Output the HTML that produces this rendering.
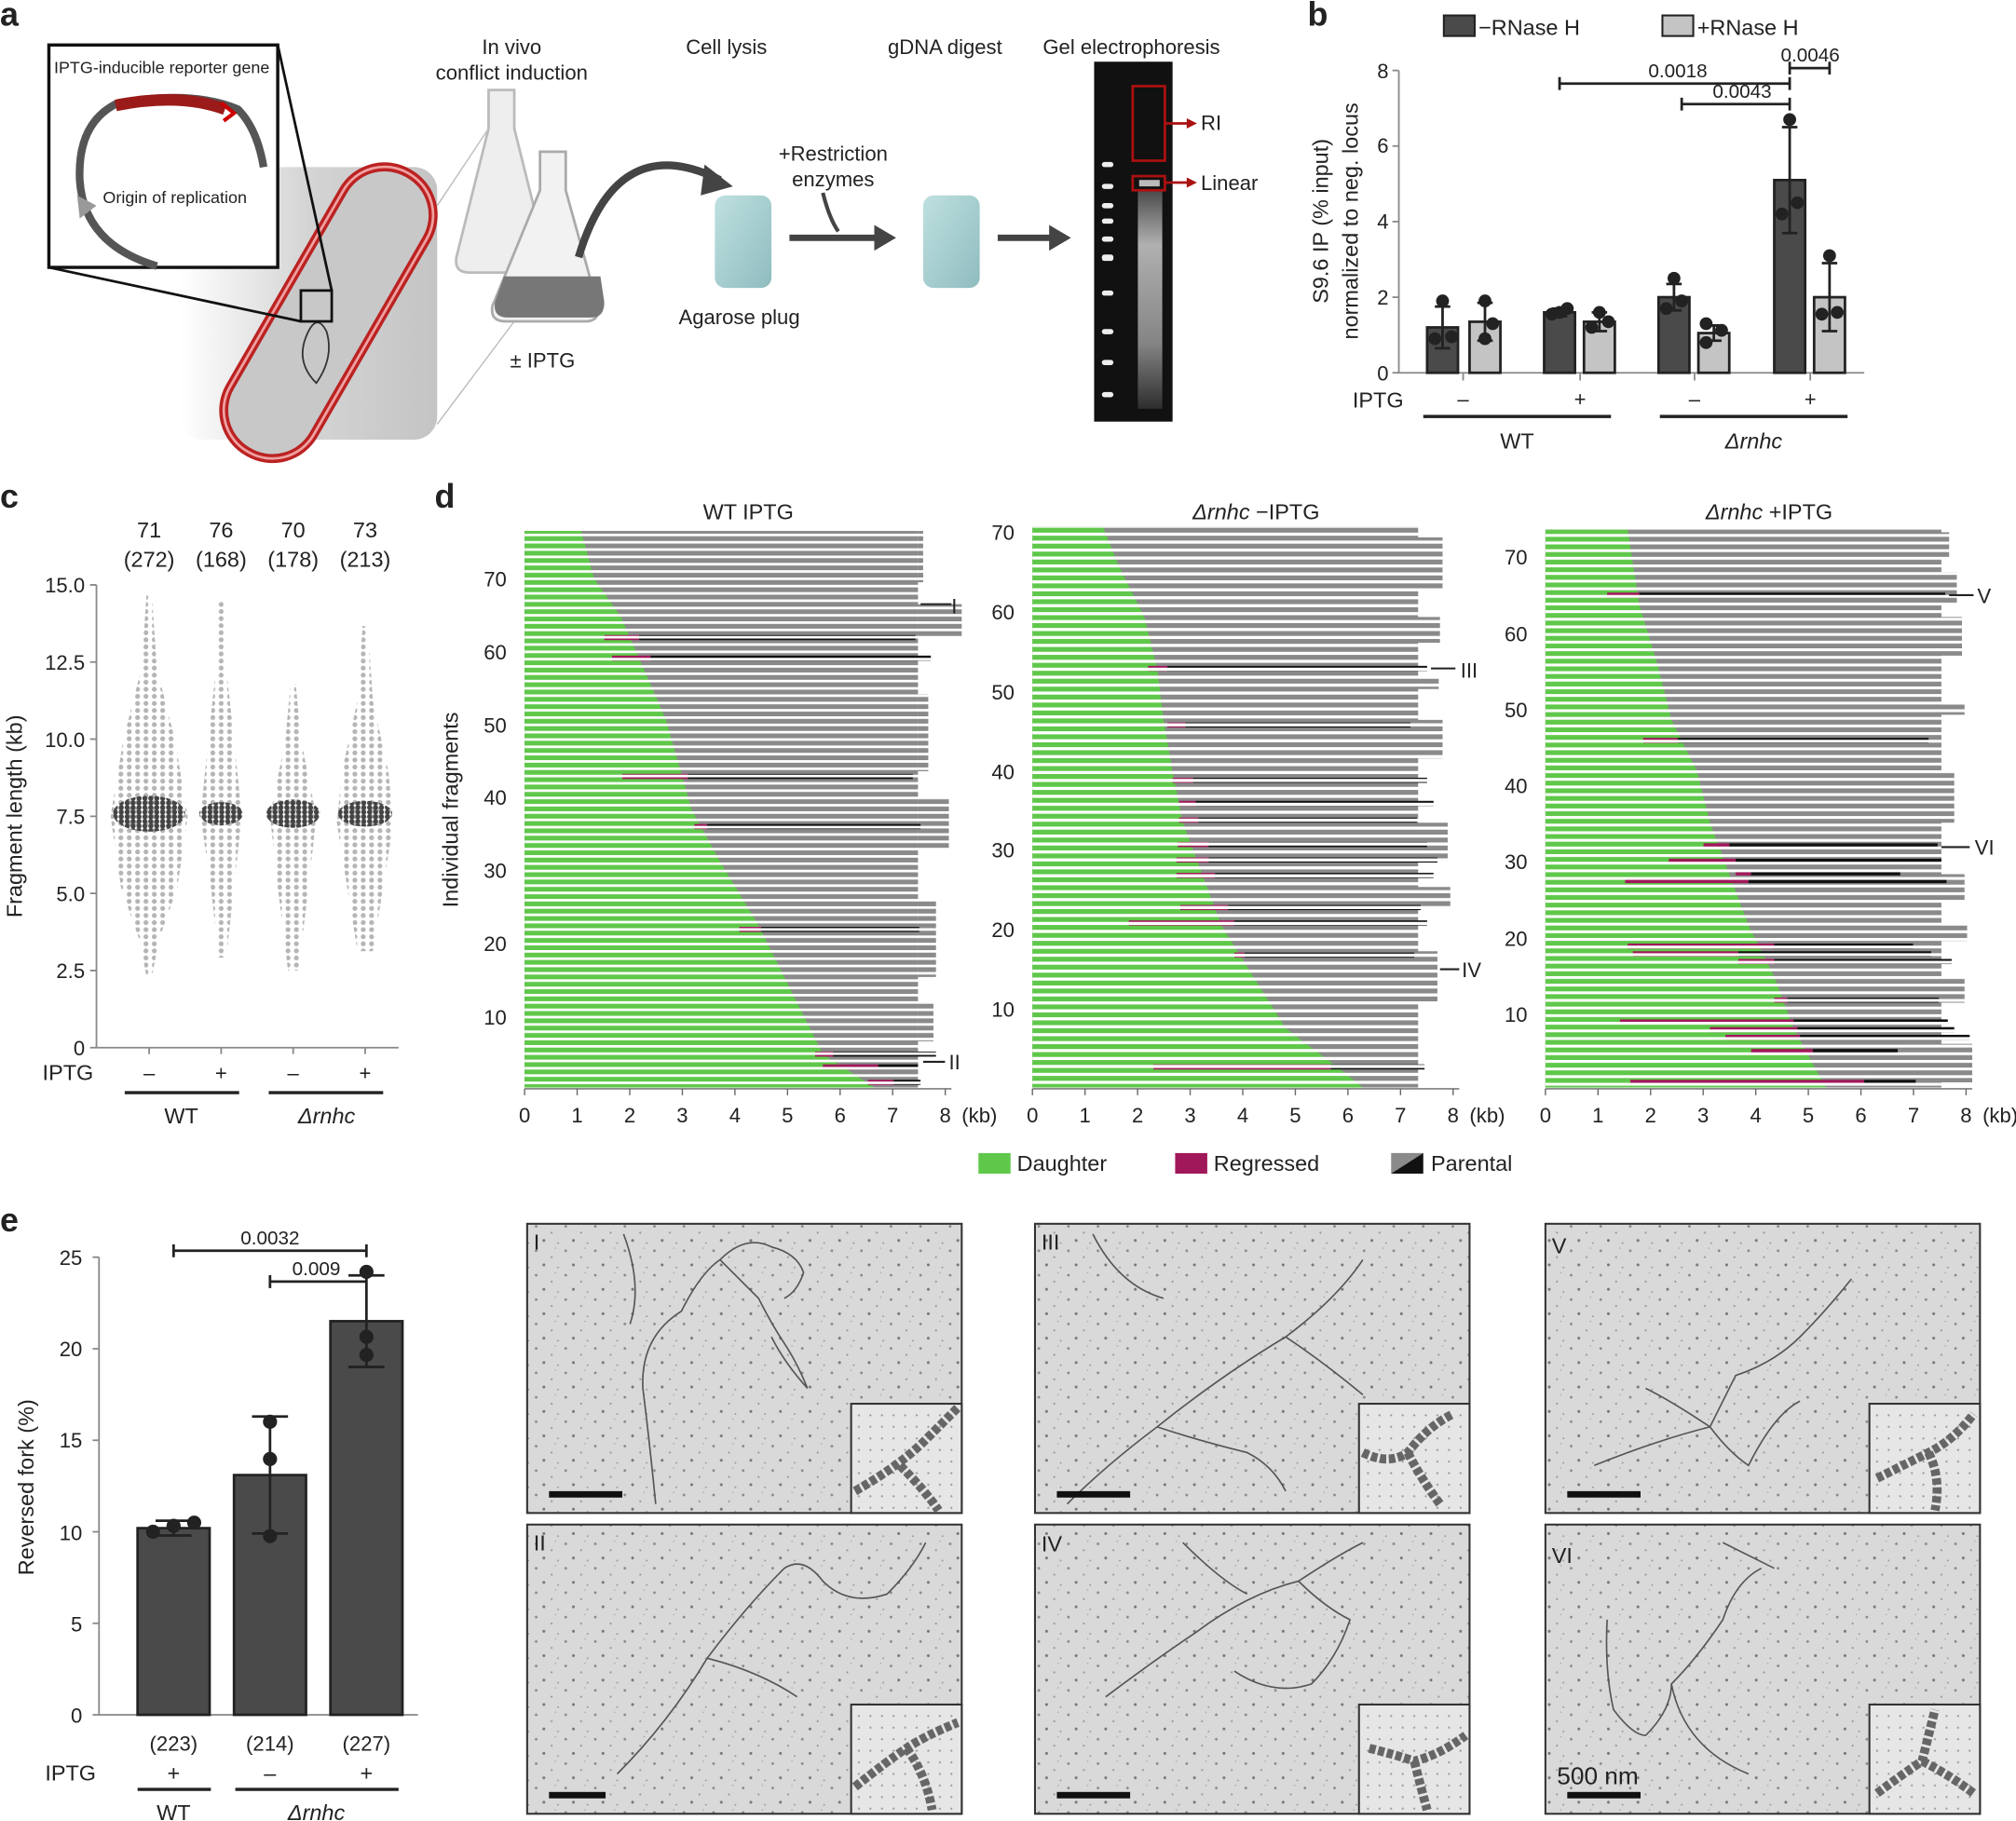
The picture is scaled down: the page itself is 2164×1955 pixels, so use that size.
<!DOCTYPE html>
<html><head><meta charset="utf-8">
<style>
html,body{margin:0;padding:0;background:#fff;}
svg{display:block;font-family:"Liberation Sans",sans-serif;}
</style></head>
<body>
<svg width="2164" height="1955" viewBox="0 0 1568 1416.6" xmlns="http://www.w3.org/2000/svg">
<defs>
<linearGradient id="cellbg" x1="0" y1="0" x2="1" y2="0"><stop offset="0" stop-color="#fff"/><stop offset="0.5" stop-color="#d4d4d4"/><stop offset="1" stop-color="#c4c4c4"/></linearGradient>
<linearGradient id="plug" x1="0" y1="0" x2="1" y2="1"><stop offset="0" stop-color="#bfe0e0"/><stop offset="1" stop-color="#8fbcbf"/></linearGradient>
<linearGradient id="lane" x1="0" y1="0" x2="0" y2="1"><stop offset="0" stop-color="#555"/><stop offset="0.25" stop-color="#ccc"/><stop offset="0.7" stop-color="#999"/><stop offset="1" stop-color="#333"/></linearGradient>
<pattern id="stripe1" patternUnits="userSpaceOnUse" x="0" y="0.3" width="10" height="5.683"><rect width="10" height="2" fill="#fff"/></pattern>
<pattern id="stripe2" patternUnits="userSpaceOnUse" x="0" y="0.3" width="10" height="6.18"><rect width="10" height="2.4" fill="#fff"/></pattern>
<pattern id="stripe3" patternUnits="userSpaceOnUse" x="0" y="0.3" width="10" height="5.93"><rect width="10" height="2.2" fill="#fff"/></pattern>
<pattern id="gdots" patternUnits="userSpaceOnUse" width="6.5" height="5.5"><circle cx="3" cy="2.7" r="1.9" fill="#b5b5b5"/></pattern>
<pattern id="ddots" patternUnits="userSpaceOnUse" width="4.6" height="3.6"><circle cx="2.3" cy="1.8" r="2" fill="#444"/></pattern>
<pattern id="noise" patternUnits="userSpaceOnUse" width="23" height="19"><rect width="23" height="19" fill="#d9d9d9"/><circle cx="3" cy="4" r="1" fill="#888"/><circle cx="15" cy="9" r="0.8" fill="#999"/><circle cx="9" cy="15" r="1.1" fill="#777"/><circle cx="20" cy="17" r="0.7" fill="#999"/><circle cx="18" cy="2" r="0.6" fill="#aaa"/></pattern>
<pattern id="beads" patternUnits="userSpaceOnUse" width="9" height="9"><rect width="9" height="9" fill="#e6e6e6"/><circle cx="2" cy="3" r="0.8" fill="#999"/></pattern>
</defs>
<g font-size="16" fill="#222">
<!-- panel a -->
<text x="0" y="20" font-size="26" font-weight="bold">a</text>
<rect x="140" y="130" width="200" height="212" rx="18" fill="url(#cellbg)"/>
<line x1="340" y1="160" x2="380" y2="100" stroke="#bbb"/>
<line x1="340" y1="330" x2="400" y2="250" stroke="#bbb"/>
<rect x="218" y="118" width="75" height="250" rx="37" transform="rotate(30 255 243)" fill="#c8c8c8" stroke="#b22" stroke-width="7"/>
<rect x="218" y="118" width="75" height="250" rx="37" transform="rotate(30 255 243)" fill="none" stroke="#f0a0a0" stroke-width="2"/>
<path d="M238 262 q8 -20 16 -4 q6 20 -8 40 q-16 -16 -8 -36" fill="none" stroke="#333" stroke-width="1.3"/>
<rect x="234" y="226" width="24" height="24" fill="none" stroke="#111" stroke-width="2"/>
<line x1="216" y1="35" x2="258" y2="226" stroke="#111" stroke-width="2"/>
<line x1="38" y1="208" x2="234" y2="250" stroke="#111" stroke-width="2"/>
<rect x="38" y="35" width="178" height="173" fill="#fff" stroke="#111" stroke-width="2.5"/>
<text x="42" y="57" font-size="13">IPTG-inducible reporter gene</text>
<path d="M92 80 Q60 95 62 140 Q65 190 122 207" fill="none" stroke="#555" stroke-width="6"/>
<path d="M92 80 Q150 70 185 85 Q200 100 205 130" fill="none" stroke="#555" stroke-width="6"/>
<path d="M90 82 Q140 72 175 85" fill="none" stroke="#9b1a1a" stroke-width="9"/>
<path d="M172 80 l10 8 -8 6" fill="none" stroke="#c00" stroke-width="3"/>
<polygon points="60,152 75,160 62,170" fill="#999"/>
<text x="80" y="158" font-size="13">Origin of replication</text>
<text x="398" y="42" text-anchor="middle">In vivo</text>
<text x="398" y="62" text-anchor="middle">conflict induction</text>
<text x="565" y="42" text-anchor="middle">Cell lysis</text>
<text x="735" y="42" text-anchor="middle">gDNA digest</text>
<text x="880" y="42" text-anchor="middle">Gel electrophoresis</text>
<path d="M380 70 h20 v30 l25 100 q2 12 -10 12 h-50 q-12 0 -10 -12 l25 -100z" fill="#eee" stroke="#bbb" stroke-width="2"/>
<path d="M420 118 h20 v30 l25 90 q2 12 -10 12 h-62 q-12 0 -10 -12 l37 -90z" fill="#f2f2f2" stroke="#aaa" stroke-width="2"/>
<path d="M392 215 l75 0 l3 20 q0 12 -10 12 h-65 q-12 0 -10 -12z" fill="#777"/>
<text x="422" y="286" text-anchor="middle">± IPTG</text>
<path d="M450 200 Q480 100 560 140" fill="none" stroke="#444" stroke-width="6"/>
<polygon points="548,128 570,145 545,152" fill="#444"/>
<rect x="556" y="152" width="44" height="72" rx="8" fill="url(#plug)"/>
<text x="575" y="252" text-anchor="middle">Agarose plug</text>
<text x="648" y="125" text-anchor="middle">+Restriction</text>
<text x="648" y="145" text-anchor="middle">enzymes</text>
<path d="M640 150 q5 20 12 30" fill="none" stroke="#444" stroke-width="3"/>
<line x1="614" y1="185" x2="682" y2="185" stroke="#444" stroke-width="5"/>
<polygon points="680,175 697,185 680,195" fill="#444"/>
<rect x="718" y="152" width="44" height="72" rx="8" fill="url(#plug)"/>
<line x1="776" y1="185" x2="818" y2="185" stroke="#444" stroke-width="5"/>
<polygon points="816,175 833,185 816,195" fill="#444"/>
<rect x="851" y="48" width="61" height="280" fill="#111"/>
<rect x="885" y="148" width="19" height="170" fill="url(#lane)" opacity="0.85"/>
<g fill="#eee"><rect x="857" y="126" width="9" height="4" rx="2"/><rect x="857" y="143" width="9" height="4" rx="2"/><rect x="857" y="158" width="9" height="4" rx="2"/><rect x="857" y="170" width="9" height="4" rx="2"/><rect x="857" y="184" width="9" height="4" rx="2"/><rect x="857" y="198" width="9" height="5" rx="2"/><rect x="857" y="226" width="9" height="4" rx="2"/><rect x="857" y="256" width="9" height="4" rx="2"/><rect x="857" y="280" width="9" height="4" rx="2"/><rect x="857" y="305" width="9" height="4" rx="2"/></g>
<rect x="886" y="140" width="16" height="5" fill="#bbb"/>
<rect x="881" y="67" width="25" height="58" fill="none" stroke="#a11" stroke-width="2"/>
<rect x="881" y="137" width="25" height="11" fill="none" stroke="#a11" stroke-width="2"/>
<line x1="906" y1="96" x2="925" y2="96" stroke="#a11" stroke-width="2"/><polygon points="923,92 931,96 923,100" fill="#a11"/>
<line x1="906" y1="142" x2="925" y2="142" stroke="#a11" stroke-width="2"/><polygon points="923,138 931,142 923,146" fill="#a11"/>
<text x="934" y="101">RI</text>
<text x="934" y="148">Linear</text>

<!-- panel b -->
<text x="1017" y="20" font-size="26" font-weight="bold">b</text>
<rect x="1123" y="12" width="24" height="16" fill="#4a4a4a" stroke="#222" stroke-width="1.5"/>
<text x="1150" y="27" font-size="17">−RNase H</text>
<rect x="1293" y="12" width="24" height="16" fill="#c4c4c4" stroke="#222" stroke-width="1.5"/>
<text x="1320" y="27" font-size="17">+RNase H</text>
<text transform="translate(1033,172) rotate(-90)" text-anchor="middle" font-size="17">S9.6 IP (% input)</text>
<text transform="translate(1056,172) rotate(-90)" text-anchor="middle" font-size="17">normalized to neg. locus</text>
<g stroke="#888" stroke-width="1.3">
<line x1="1088" y1="55" x2="1088" y2="290"/><line x1="1088" y1="290" x2="1450" y2="290"/>
<line x1="1083" y1="290" x2="1088" y2="290"/><line x1="1083" y1="231.2" x2="1088" y2="231.2"/><line x1="1083" y1="172.4" x2="1088" y2="172.4"/><line x1="1083" y1="113.6" x2="1088" y2="113.6"/><line x1="1083" y1="54.8" x2="1088" y2="54.8"/>
<line x1="1138" y1="290" x2="1138" y2="296"/><line x1="1229" y1="290" x2="1229" y2="296"/><line x1="1318" y1="290" x2="1318" y2="296"/><line x1="1408" y1="290" x2="1408" y2="296"/>
</g>
<g text-anchor="end"><text x="1080" y="296">0</text><text x="1080" y="237">2</text><text x="1080" y="178">4</text><text x="1080" y="119">6</text><text x="1080" y="61">8</text></g>
<g stroke="#222" stroke-width="2">
<rect x="1110" y="254.7" width="24" height="35.3" fill="#4a4a4a"/>
<rect x="1143" y="250.3" width="24" height="39.7" fill="#c4c4c4"/>
<rect x="1201" y="243" width="24" height="47" fill="#4a4a4a"/>
<rect x="1232" y="250.3" width="24" height="39.7" fill="#c4c4c4"/>
<rect x="1290" y="231.2" width="24" height="58.8" fill="#4a4a4a"/>
<rect x="1321" y="259.1" width="24" height="30.9" fill="#c4c4c4"/>
<rect x="1380" y="140.1" width="24" height="149.9" fill="#4a4a4a"/>
<rect x="1411" y="231.2" width="24" height="58.8" fill="#c4c4c4"/>
<path d="M1122 238.5V270.9M1116 238.5h12M1116 270.9h12 M1155 235.6V265M1149 235.6h12M1149 265h12 M1213 240V246M1207 240h12M1207 246h12 M1244 243V257.6M1238 243h12M1238 257.6h12 M1302 220.9V241.5M1296 220.9h12M1296 241.5h12 M1333 253.2V265M1327 253.2h12M1327 265h12 M1392 98.9V181.3M1386 98.9h12M1386 181.3h12 M1423 204.7V257.6M1417 204.7h12M1417 257.6h12" fill="none"/>
<path d="M1213 65H1392M1213 60v10M1392 60v10 M1308 81H1392M1308 76v10M1392 76v10 M1392 53H1423M1392 48v10M1423 48v10" fill="none" stroke-width="2"/>
</g>
<g fill="#222">
<circle cx="1122" cy="234.1" r="5"/><circle cx="1116" cy="263.5" r="5"/><circle cx="1129" cy="262" r="5"/>
<circle cx="1155" cy="234.1" r="5"/><circle cx="1161" cy="251.8" r="5"/><circle cx="1155" cy="263.5" r="5"/>
<circle cx="1207" cy="244.4" r="5"/><circle cx="1213" cy="243" r="5"/><circle cx="1219" cy="240" r="5"/>
<circle cx="1244" cy="243" r="5"/><circle cx="1251" cy="250.3" r="5"/><circle cx="1238" cy="254.7" r="5"/>
<circle cx="1302" cy="216.5" r="5"/><circle cx="1308" cy="234.1" r="5"/><circle cx="1296" cy="240" r="5"/>
<circle cx="1327" cy="251.8" r="5"/><circle cx="1339" cy="257" r="5"/><circle cx="1327" cy="266.5" r="5"/>
<circle cx="1392" cy="93" r="5"/><circle cx="1398" cy="157.7" r="5"/><circle cx="1386" cy="166.5" r="5"/>
<circle cx="1423" cy="198.9" r="5"/><circle cx="1417" cy="244.4" r="5"/><circle cx="1429" cy="243" r="5"/>
</g>
<g font-size="15" text-anchor="middle"><text x="1305" y="60">0.0018</text><text x="1355" y="76">0.0043</text><text x="1408" y="48">0.0046</text></g>
<g text-anchor="middle"><text x="1138" y="316">–</text><text x="1229" y="316">+</text><text x="1318" y="316">–</text><text x="1408" y="316">+</text></g>
<text x="1052" y="317" font-size="17">IPTG</text>
<path d="M1107 324H1253M1291 324H1437" stroke="#222" stroke-width="2.5"/>
<text x="1180" y="349" text-anchor="middle" font-size="17">WT</text>
<text x="1364" y="349" text-anchor="middle" font-size="17" font-style="italic">Δrnhc</text>

<!-- panel c -->
<text x="0" y="395" font-size="26" font-weight="bold">c</text>
<text transform="translate(17,635) rotate(-90)" text-anchor="middle" font-size="17">Fragment length (kb)</text>
<g stroke="#888" stroke-width="1.3"><path d="M75 455V815H310 M70 815h5M70 755h5M70 695h5M70 635h5M70 575h5M70 515h5M70 455h5 M116 815v5M172 815v5M228 815v5M284 815v5" fill="none"/></g>
<g text-anchor="end"><text x="66" y="821">0</text><text x="66" y="761">2.5</text><text x="66" y="701">5.0</text><text x="66" y="641">7.5</text><text x="66" y="581">10.0</text><text x="66" y="521">12.5</text><text x="66" y="461">15.0</text></g>
<g text-anchor="middle" font-size="17"><text x="116" y="418">71</text><text x="116" y="441">(272)</text><text x="172" y="418">76</text><text x="172" y="441">(168)</text><text x="228" y="418">70</text><text x="228" y="441">(178)</text><text x="284" y="418">73</text><text x="284" y="441">(213)</text></g>
<path d="M114 462 L118 462 L122 520 L136 575 L146 635 L138 690 L124 730 L118 760 L114 760 L108 730 L94 690 L86 635 L96 575 L110 520Z" fill="url(#gdots)"/>
<path d="M170 468 L174 468 L176 520 L182 575 L188 635 L182 690 L176 745 L170 745 L164 690 L156 635 L162 575 L168 520Z" fill="url(#gdots)"/>
<path d="M226 532 L230 532 L234 575 L246 635 L240 690 L232 755 L224 755 L216 690 L210 635 L222 575Z" fill="url(#gdots)"/>
<path d="M282 487 L286 487 L290 545 L302 600 L306 640 L298 690 L290 740 L278 740 L270 690 L262 640 L266 600 L278 545Z" fill="url(#gdots)"/>
<ellipse cx="116" cy="633" rx="28" ry="14" fill="url(#ddots)"/>
<ellipse cx="172" cy="633" rx="17" ry="9" fill="url(#ddots)"/>
<ellipse cx="228" cy="633" rx="21" ry="11" fill="url(#ddots)"/>
<ellipse cx="284" cy="633" rx="21" ry="10" fill="url(#ddots)"/>
<g text-anchor="middle"><text x="116" y="840">–</text><text x="172" y="840">+</text><text x="228" y="840">–</text><text x="284" y="840">+</text></g>
<text x="33" y="840" font-size="17">IPTG</text>
<path d="M97 850H186M209 850H298" stroke="#222" stroke-width="2.5"/>
<text x="141" y="874" text-anchor="middle" font-size="17">WT</text>
<text x="254" y="874" text-anchor="middle" font-size="17" font-style="italic">Δrnhc</text>

<!-- panel d -->
<text x="338" y="395" font-size="26" font-weight="bold">d</text>
<text transform="translate(356,630) rotate(-90)" text-anchor="middle" font-size="17">Individual fragments</text>
<!-- plot 1 -->
<text x="582" y="404" text-anchor="middle" font-size="17">WT  IPTG</text>
<rect x="408" y="413" width="306" height="433" fill="#8a8a8a"/>
<path d="M714 413h4v40h-4zM714 470h34v25h-34zM714 540h8v60h-8zM714 620h24v40h-24zM714 700h14v60h-14zM714 780h12v30h-12z" fill="#8a8a8a"/>
<path d="M408 413 L452 413 L462 450 L483 480 L518 560 L538 630 L560 670 L590 720 L620 780 L640 820 L680 846 L408 846Z" fill="#5fc84a"/>
<g>
<rect x="470" y="494" width="27" height="4" fill="#a0185a"/><rect x="497" y="494" width="215" height="4" fill="#111"/>
<rect x="476" y="510" width="30" height="4" fill="#a0185a"/><rect x="506" y="510" width="218" height="4" fill="#111"/>
<rect x="484" y="602" width="51" height="4" fill="#a0185a"/><rect x="535" y="602" width="175" height="4" fill="#111"/>
<rect x="540" y="641" width="10" height="4" fill="#a0185a"/><rect x="550" y="641" width="166" height="4" fill="#111"/>
<rect x="575" y="721" width="17" height="4" fill="#a0185a"/><rect x="592" y="721" width="123" height="4" fill="#111"/>
<rect x="634" y="818" width="14" height="4" fill="#a0185a"/><rect x="648" y="818" width="80" height="4" fill="#111"/>
<rect x="640" y="828" width="43" height="4" fill="#a0185a"/><rect x="683" y="828" width="31" height="4" fill="#111"/>
<rect x="675" y="840" width="20" height="4" fill="#a0185a"/><rect x="695" y="840" width="21" height="4" fill="#111"/>
</g>
<rect x="408" y="413" width="345" height="434" fill="url(#stripe1)"/>
<path d="M716 470H740M718 826H735" stroke="#222" stroke-width="1.5"/>
<text x="740" y="477">I</text><text x="738" y="832">II</text>
<path d="M408 847H740" stroke="#666"/>
<path d="M408 847v5M448.9 847v5M489.8 847v5M530.7 847v5M571.6 847v5M612.5 847v5M653.4 847v5M694.3 847v5M735.2 847v5" stroke="#666"/>
<g text-anchor="middle"><text x="408" y="873">0</text><text x="448.9" y="873">1</text><text x="489.8" y="873">2</text><text x="530.7" y="873">3</text><text x="571.6" y="873">4</text><text x="612.5" y="873">5</text><text x="653.4" y="873">6</text><text x="694.3" y="873">7</text><text x="735.2" y="873">8</text></g>
<text x="748" y="873">(kb)</text>
<g text-anchor="end"><text x="394" y="797">10</text><text x="394" y="740">20</text><text x="394" y="683">30</text><text x="394" y="626">40</text><text x="394" y="570">50</text><text x="394" y="513">60</text><text x="394" y="456">70</text></g>
<!-- plot 2 -->
<text x="977" y="404" text-anchor="middle" font-size="17"><tspan font-style="italic">Δrnhc</tspan> −IPTG</text>
<rect x="803" y="410" width="300" height="436" fill="#8a8a8a"/>
<path d="M1100 418h22v40h-22zM1100 480h20v20h-20zM1100 528h19v8h-19zM1100 560h22v30h-22zM1100 640h26v30h-26zM1100 690h28v15h-28zM1100 740h18v40h-18z" fill="#8a8a8a"/>
<path d="M803 410 L858 410 L870 440 L890 480 L900 520 L905 560 L912 600 L920 640 L935 680 L950 720 L975 760 L1000 800 L1040 830 L1060 846 L803 846Z" fill="#5fc84a"/>
<g>
<rect x="893" y="518" width="15" height="4" fill="#a0185a"/><rect x="908" y="518" width="202" height="4" fill="#111"/>
<rect x="908" y="562" width="14" height="4" fill="#a0185a"/><rect x="922" y="562" width="175" height="4" fill="#111"/>
<rect x="912" y="605" width="16" height="4" fill="#a0185a"/><rect x="928" y="605" width="182" height="4" fill="#111"/>
<rect x="917" y="623" width="13" height="4" fill="#a0185a"/><rect x="930" y="623" width="185" height="4" fill="#111"/>
<rect x="917" y="636" width="15" height="4" fill="#a0185a"/><rect x="932" y="636" width="170" height="4" fill="#111"/>
<rect x="916" y="655" width="24" height="4" fill="#a0185a"/><rect x="940" y="655" width="170" height="4" fill="#111"/>
<rect x="915" y="667" width="25" height="4" fill="#a0185a"/><rect x="940" y="667" width="178" height="4" fill="#111"/>
<rect x="915" y="679" width="30" height="4" fill="#a0185a"/><rect x="945" y="679" width="170" height="4" fill="#111"/>
<rect x="918" y="704" width="37" height="4" fill="#a0185a"/><rect x="955" y="704" width="150" height="4" fill="#111"/>
<rect x="878" y="716" width="82" height="4" fill="#a0185a"/><rect x="960" y="716" width="150" height="4" fill="#111"/>
<rect x="960" y="741" width="8" height="4" fill="#a0185a"/><rect x="968" y="741" width="132" height="4" fill="#111"/>
<rect x="897" y="828" width="138" height="4" fill="#a0185a"/><rect x="1035" y="828" width="73" height="4" fill="#111"/>
</g>
<rect x="803" y="410" width="330" height="437" fill="url(#stripe2)"/>
<path d="M1113 520H1132M1120 754H1135" stroke="#222" stroke-width="1.5"/>
<text x="1136" y="527">III</text><text x="1137" y="760">IV</text>
<path d="M803 847H1135" stroke="#666"/>
<path d="M803 847v5M843.9 847v5M884.8 847v5M925.7 847v5M966.6 847v5M1007.5 847v5M1048.4 847v5M1089.3 847v5M1130.2 847v5" stroke="#666"/>
<g text-anchor="middle"><text x="803" y="873">0</text><text x="843.9" y="873">1</text><text x="884.8" y="873">2</text><text x="925.7" y="873">3</text><text x="966.6" y="873">4</text><text x="1007.5" y="873">5</text><text x="1048.4" y="873">6</text><text x="1089.3" y="873">7</text><text x="1130.2" y="873">8</text></g>
<text x="1143" y="873">(kb)</text>
<g text-anchor="end"><text x="789" y="791">10</text><text x="789" y="729">20</text><text x="789" y="667">30</text><text x="789" y="606">40</text><text x="789" y="544">50</text><text x="789" y="482">60</text><text x="789" y="420">70</text></g>
<!-- plot 3 -->
<text x="1376" y="404" text-anchor="middle" font-size="17"><tspan font-style="italic">Δrnhc</tspan> +IPTG</text>
<rect x="1202" y="412" width="308" height="434" fill="#8a8a8a"/>
<path d="M1508 414h8v20h-8zM1508 445h14v25h-14zM1508 480h18v30h-18zM1508 548h20v8h-20zM1508 600h12v40h-12zM1508 680h20v20h-20zM1508 720h22v12h-22zM1508 760h20v20h-20zM1508 812h26v30h-26z" fill="#8a8a8a"/>
<path d="M1202 412 L1266 412 L1275 470 L1290 520 L1300 560 L1320 600 L1330 640 L1345 680 L1360 720 L1380 760 L1395 800 L1420 846 L1202 846Z" fill="#5fc84a"/>
<g>
<rect x="1250" y="461" width="25" height="4" fill="#a0185a"/><rect x="1275" y="461" width="238" height="4" fill="#111"/>
<rect x="1278" y="574" width="27" height="4" fill="#a0185a"/><rect x="1305" y="574" width="195" height="4" fill="#111"/>
<rect x="1325" y="656" width="20" height="4" fill="#a0185a"/><rect x="1345" y="656" width="162" height="4" fill="#111"/>
<rect x="1298" y="668" width="52" height="4" fill="#a0185a"/><rect x="1350" y="668" width="160" height="4" fill="#111"/>
<rect x="1350" y="677" width="12" height="4" fill="#a0185a"/><rect x="1362" y="677" width="116" height="4" fill="#111"/>
<rect x="1264" y="683" width="96" height="4" fill="#a0185a"/><rect x="1360" y="683" width="154" height="4" fill="#111"/>
<rect x="1266" y="734" width="114" height="4" fill="#a0185a"/><rect x="1380" y="734" width="108" height="4" fill="#111"/>
<rect x="1270" y="740" width="82" height="4" fill="#a0185a"/><rect x="1352" y="740" width="150" height="4" fill="#111"/>
<rect x="1352" y="746" width="28" height="4" fill="#a0185a"/><rect x="1380" y="746" width="138" height="4" fill="#111"/>
<rect x="1380" y="776" width="10" height="4" fill="#a0185a"/><rect x="1390" y="776" width="118" height="4" fill="#111"/>
<rect x="1260" y="793" width="135" height="4" fill="#a0185a"/><rect x="1395" y="793" width="120" height="4" fill="#111"/>
<rect x="1330" y="799" width="68" height="4" fill="#a0185a"/><rect x="1398" y="799" width="122" height="4" fill="#111"/>
<rect x="1342" y="805" width="58" height="4" fill="#a0185a"/><rect x="1400" y="805" width="132" height="4" fill="#111"/>
<rect x="1362" y="816" width="48" height="4" fill="#a0185a"/><rect x="1410" y="816" width="66" height="4" fill="#111"/>
<rect x="1268" y="840" width="182" height="4" fill="#a0185a"/><rect x="1450" y="840" width="40" height="4" fill="#111"/>
</g>
<rect x="1202" y="412" width="335" height="435" fill="url(#stripe3)"/>
<path d="M1516 463H1535M1510 659H1532" stroke="#222" stroke-width="1.5"/>
<text x="1538" y="469">V</text><text x="1536" y="665">VI</text>
<path d="M1202 847H1534" stroke="#666"/>
<path d="M1202 847v5M1242.9 847v5M1283.8 847v5M1324.7 847v5M1365.6 847v5M1406.5 847v5M1447.4 847v5M1488.3 847v5M1529.2 847v5" stroke="#666"/>
<g text-anchor="middle"><text x="1202" y="873">0</text><text x="1242.9" y="873">1</text><text x="1283.8" y="873">2</text><text x="1324.7" y="873">3</text><text x="1365.6" y="873">4</text><text x="1406.5" y="873">5</text><text x="1447.4" y="873">6</text><text x="1488.3" y="873">7</text><text x="1529.2" y="873">8</text></g>
<text x="1542" y="873">(kb)</text>
<g text-anchor="end"><text x="1188" y="795">10</text><text x="1188" y="736">20</text><text x="1188" y="676">30</text><text x="1188" y="617">40</text><text x="1188" y="558">50</text><text x="1188" y="499">60</text><text x="1188" y="439">70</text></g>
<!-- legend -->
<rect x="761" y="897" width="25" height="16" fill="#5fc84a"/><text x="791" y="911" font-size="17">Daughter</text>
<rect x="914" y="897" width="25" height="16" fill="#a0185a"/><text x="944" y="911" font-size="17">Regressed</text>
<polygon points="1082,897 1107,897 1082,913" fill="#8a8a8a"/><polygon points="1107,897 1107,913 1082,913" fill="#111"/><text x="1113" y="911" font-size="17">Parental</text>

<!-- panel e -->
<text x="0" y="958" font-size="26" font-weight="bold">e</text>
<text transform="translate(26,1157) rotate(-90)" text-anchor="middle" font-size="17">Reversed fork (%)</text>
<path d="M77 978V1334H325 M72 1334h5M72 1262.8h5M72 1191.6h5M72 1120.4h5M72 1049.2h5M72 978h5" stroke="#888" stroke-width="1.3" fill="none"/>
<g text-anchor="end"><text x="64" y="1340">0</text><text x="64" y="1269">5</text><text x="64" y="1198">10</text><text x="64" y="1126">15</text><text x="64" y="1055">20</text><text x="64" y="984">25</text></g>
<g stroke="#222" stroke-width="2">
<rect x="107" y="1188.8" width="56" height="145.2" fill="#4a4a4a"/>
<rect x="182" y="1147.5" width="56" height="186.5" fill="#4a4a4a"/>
<rect x="257" y="1027.8" width="56" height="306.2" fill="#4a4a4a"/>
<path d="M135 1183V1194.5M121 1183h28M121 1194.5h28 M210 1101.9V1193M196 1101.9h28M196 1193h28 M285 992.2V1063.4M271 992.2h28M271 1063.4h28 M135 973H285M135 968v10M285 968v10 M210 997H285M210 992v10M285 992v10" fill="none"/>
</g>
<g fill="#222"><circle cx="119" cy="1191.6" r="5.5"/><circle cx="135" cy="1187" r="5.5"/><circle cx="151" cy="1184.5" r="5.5"/><circle cx="210" cy="1195" r="5.5"/><circle cx="210" cy="1135" r="5.5"/><circle cx="210" cy="1106" r="5.5"/><circle cx="285" cy="1054" r="5.5"/><circle cx="285" cy="1040" r="5.5"/><circle cx="285" cy="989.4" r="5.5"/></g>
<g font-size="15" text-anchor="middle"><text x="210" y="968">0.0032</text><text x="246" y="992">0.009</text></g>
<g text-anchor="middle"><text x="135" y="1362">(223)</text><text x="210" y="1362">(214)</text><text x="285" y="1362">(227)</text><text x="135" y="1385" font-size="17">+</text><text x="210" y="1385" font-size="17">–</text><text x="285" y="1385" font-size="17">+</text></g>
<text x="35" y="1385" font-size="17">IPTG</text>
<path d="M107 1392H164M183 1392H310" stroke="#222" stroke-width="2.5"/>
<text x="135" y="1416" text-anchor="middle" font-size="17">WT</text>
<text x="246" y="1416" text-anchor="middle" font-size="17" font-style="italic">Δrnhc</text>

<!-- EM images -->
<g stroke="#333" stroke-width="1.5" fill="url(#noise)">
<rect x="410" y="952" width="338" height="225"/><rect x="805" y="952" width="338" height="225"/><rect x="1202" y="952" width="338" height="225"/>
<rect x="410" y="1186" width="338" height="225"/><rect x="805" y="1186" width="338" height="225"/><rect x="1202" y="1186" width="338" height="225"/>
</g>
<g fill="none" stroke="#555" stroke-width="1.2">
<path d="M510 1170 Q505 1120 500 1080 Q498 1040 530 1020 Q545 990 560 980 Q575 995 590 1010 Q600 1030 610 1045 Q620 1060 628 1080 Q610 1060 600 1040"/>
<path d="M560 980 Q580 960 600 970 Q620 975 625 990 Q620 1005 610 1010 M485 960 Q500 1000 490 1030"/>
<path d="M830 1170 Q860 1140 900 1110 Q950 1070 1000 1040 Q1040 1010 1060 980 M1000 1040 Q1030 1060 1060 1085 M850 960 Q870 1000 905 1010 M900 1110 Q930 1120 970 1130 Q990 1140 1000 1160"/>
<path d="M1240 1140 Q1290 1120 1330 1110 Q1340 1090 1350 1070 Q1380 1060 1400 1040 Q1420 1020 1440 995 M1330 1110 Q1345 1130 1360 1140 Q1380 1100 1400 1090 M1280 1080 Q1300 1090 1330 1110"/>
<path d="M480 1380 Q520 1340 550 1290 Q580 1250 610 1220 Q625 1210 640 1230 Q660 1250 690 1240 Q710 1220 720 1200 M550 1290 Q590 1300 620 1320"/>
<path d="M860 1320 Q900 1290 930 1270 Q970 1240 1010 1230 Q1040 1210 1060 1200 M960 1300 Q990 1320 1020 1310 Q1040 1290 1050 1260 Q1030 1250 1010 1230 M920 1200 Q950 1230 970 1240"/>
<path d="M1250 1260 Q1248 1300 1255 1330 Q1270 1350 1280 1350 Q1300 1330 1300 1310 Q1320 1290 1340 1260 Q1350 1230 1370 1220 M1300 1310 Q1310 1360 1360 1380 M1340 1200 Q1360 1210 1380 1220"/>
</g>
<g fill="#222"><text x="415" y="972" font-size="17">I</text><text x="810" y="972" font-size="17">III</text><text x="1207" y="975" font-size="17">V</text><text x="415" y="1206" font-size="17">II</text><text x="810" y="1207" font-size="17">IV</text><text x="1207" y="1216" font-size="17">VI</text></g>
<g stroke="#333" stroke-width="1.5" fill="url(#beads)">
<rect x="662" y="1092" width="86" height="85"/><rect x="1057" y="1092" width="86" height="85"/><rect x="1454" y="1092" width="86" height="85"/>
<rect x="662" y="1326" width="86" height="85"/><rect x="1057" y="1326" width="86" height="85"/><rect x="1454" y="1326" width="86" height="85"/>
</g>
<g fill="none" stroke="#666" stroke-width="7" stroke-dasharray="5 2">
<path d="M665 1160 Q700 1140 720 1120 Q735 1105 745 1095 M700 1140 Q720 1160 730 1175"/>
<path d="M1060 1130 Q1080 1140 1095 1130 Q1110 1110 1130 1100 M1095 1130 Q1105 1150 1120 1170"/>
<path d="M1460 1150 Q1480 1140 1500 1130 Q1520 1120 1535 1100 M1500 1130 Q1510 1150 1505 1175"/>
<path d="M665 1390 Q690 1370 705 1360 Q720 1350 745 1340 M705 1360 Q720 1380 725 1408"/>
<path d="M1065 1360 Q1085 1365 1100 1370 Q1120 1365 1140 1350 M1100 1370 Q1105 1390 1110 1408"/>
<path d="M1460 1395 Q1480 1380 1495 1370 Q1500 1350 1505 1330 M1495 1370 Q1515 1380 1535 1395"/>
</g>
<g fill="#111"><rect x="427" y="1160" width="57" height="5"/><rect x="822" y="1160" width="57" height="5"/><rect x="1219" y="1160" width="57" height="5"/><rect x="427" y="1394" width="44" height="5"/><rect x="822" y="1394" width="57" height="5"/><rect x="1219" y="1394" width="57" height="5"/></g>
<text x="1211" y="1388" font-size="19">500 nm</text>
</g>
</svg>
</body></html>
